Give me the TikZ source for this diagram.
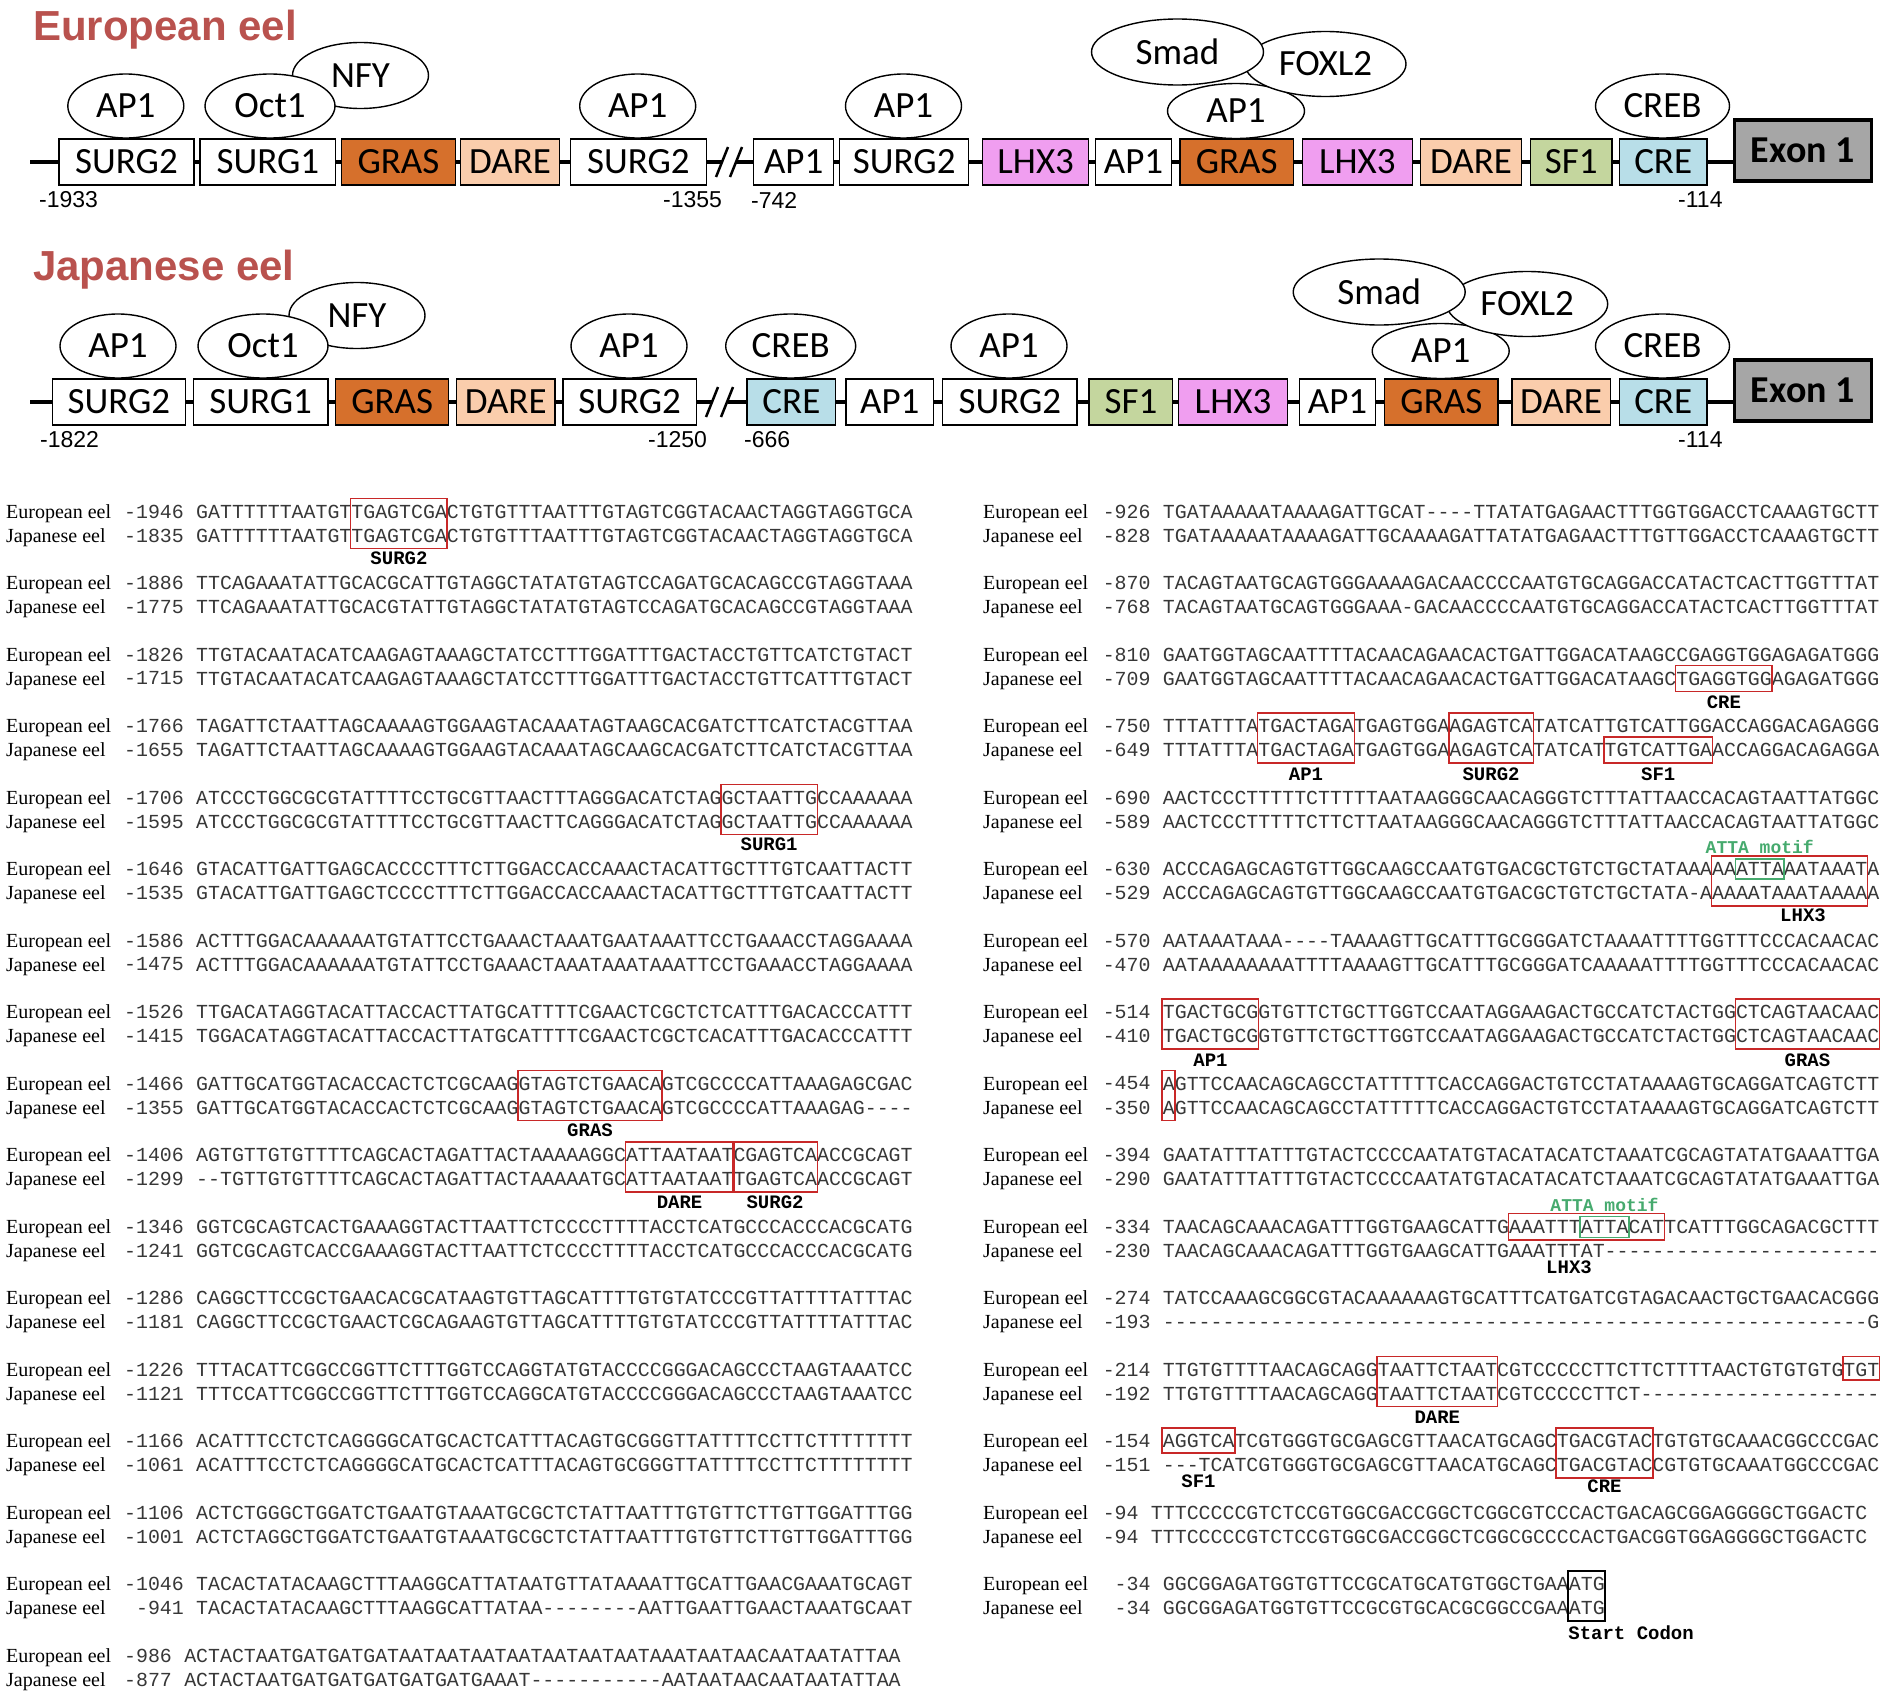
\documentclass[tikz,border=0pt]{standalone}
\usepackage{fontspec}
\setmainfont{Liberation Serif}
\setmonofont{Liberation Mono}
\newfontfamily\carlfont{Carlito}
\newfontfamily\arialfont{Liberation Sans}
\usetikzlibrary{shapes.geometric}
\definecolor{titlec}{RGB}{185,82,78}
\definecolor{grasc}{RGB}{214,112,44}
\definecolor{darec}{RGB}{250,205,172}
\definecolor{lhxc}{RGB}{240,158,240}
\definecolor{sfc}{RGB}{196,214,158}
\definecolor{crec}{RGB}{184,222,232}
\definecolor{exonc}{RGB}{166,166,166}
\definecolor{boxred}{RGB}{200,40,40}
\definecolor{attag}{RGB}{70,170,110}
\definecolor{seqc}{RGB}{55,55,55}
\newcommand{\Lx}{196}
\newcommand{\Rx}{1162.7}
\newcommand{\cw}{11.94}
\newcommand{\elem}[6]{\node[elem, fill=#5, minimum width={#3-#2}] (#1) at (#2,#4) {#6};}
\newcommand{\tfac}[6]{\node[tfac, minimum width=#4, minimum height=#5] (#1) at (#2,#3) {#6};}
\newcommand{\seqrow}[8]{%
  \node[rowlbl] (#1lE) at (#2,{#4+6.6}) {European eel};
  \node[rowlbl] (#1lJ) at (#2,{#4+30.6}) {Japanese eel};
  \node[numtxt] (#1nE) at ({#3-\cw},#4) {#5};
  \node[seqtxt] (#1sE) at (#3,#4) {#6};
  \node[numtxt] (#1nJ) at ({#3-\cw},{#4+24}) {#7};
  \node[seqtxt] (#1sJ) at (#3,{#4+24}) {#8};
}
\newcommand{\motifbox}[6]{\draw[#6] ({#1+#2*\cw-0.5},#4) rectangle ({#1+(#3+1)*\cw+0.5},#5);}
\begin{document}
\begin{tikzpicture}[x=1pt,y=-1pt,
  elem/.style={draw=black, line width=1.4pt, inner sep=0pt, minimum height=46, anchor=west, font=\carlfont\fontsize{37}{40}\selectfont},
  tfac/.style={draw=black, line width=1.4pt, fill=white, ellipse, inner sep=0pt, font=\carlfont\fontsize{37}{40}\selectfont},
  exonbox/.style={draw=black, line width=3.5pt, fill=exonc, inner sep=0pt, minimum height=61, minimum width=137, anchor=west, font=\carlfont\bfseries\fontsize{38}{40}\selectfont},
  backbone/.style={line width=4.5pt},
  brk/.style={line width=2.5pt},
  poslbl/.style={anchor=west, inner sep=0pt, font=\arialfont\fontsize{23}{26}\selectfont},
  ttl/.style={anchor=base west, inner sep=0pt, text=titlec, font=\arialfont\bfseries\fontsize{42}{46}\selectfont},
  rowlbl/.style={anchor=base west, inner sep=0pt, font=\rmfamily\fontsize{20}{24}\selectfont},
  numtxt/.style={anchor=east, inner sep=0pt, text=seqc, font=\ttfamily\fontsize{19.9}{24}\selectfont},
  seqtxt/.style={anchor=west, inner sep=0pt, text=seqc, font=\ttfamily\fontsize{19.9}{24}\selectfont},
  mlbl/.style={inner sep=0pt, font=\ttfamily\bfseries\fontsize{19}{22}\selectfont},
  attalbl/.style={inner sep=0pt, text=attag, font=\ttfamily\bfseries\fontsize{18}{22}\selectfont},
  redbox/.style={draw=boxred, line width=1.5pt},
  greenbox/.style={draw=attag, line width=1.5pt},
  blackbox/.style={draw=black, line width=1.5pt},
]
\fill[white] (0,0) rectangle (1890,1692);
\useasboundingbox (0,0) rectangle (1890,1692);

% ---------------- European eel diagram ----------------
\node[ttl] (tEu) at (33,40) {European eel};
\coordinate (eS) at (30,162); \coordinate (eB1) at (722,162);
\coordinate (eB2) at (736,162); \coordinate (eE) at (1733,162);
\draw[backbone] (eS) -- (eB1);
\draw[backbone] (eB2) -- (eE);
\draw[brk] (716,177) -- (728,147);
\draw[brk] (730,177) -- (742,147);
\elem{eA}{58.3}{193.3}{162}{white}{SURG2}
\elem{eB}{199.3}{335}{162}{white}{SURG1}
\elem{eC}{341}{454.5}{162}{grasc}{GRAS}
\elem{eD}{460}{558.6}{162}{darec}{DARE}
\elem{eF}{569.5}{705.8}{162}{white}{SURG2}
\elem{eG}{753}{833}{162}{white}{AP1}
\elem{eH}{839}{968}{162}{white}{SURG2}
\elem{eI}{982}{1088}{162}{lhxc}{LHX3}
\elem{eJ}{1095}{1170.7}{162}{white}{AP1}
\elem{eK}{1179.3}{1292.7}{162}{grasc}{GRAS}
\elem{eL}{1301.7}{1411.7}{162}{lhxc}{LHX3}
\elem{eM}{1420}{1520.7}{162}{darec}{DARE}
\elem{eN}{1530}{1611.3}{162}{sfc}{SF1}
\elem{eO}{1618.6}{1706.4}{162}{crec}{CRE}
\node[exonbox] (eX) at (1732.5,150.5) {Exon 1};
\tfac{eAP1a}{125.8}{106}{116}{64}{AP1}
\tfac{eNFY}{360.5}{75.5}{136}{66}{NFY}
\tfac{eOct1}{270}{106}{130}{64}{Oct1}
\tfac{eAP1b}{637.7}{106}{116}{64}{AP1}
\tfac{eAP1c}{903.5}{106}{116}{64}{AP1}
\tfac{eAP1d}{1236}{111}{137}{55}{AP1}
\tfac{eFOXL2}{1325.5}{64}{161}{65}{FOXL2}
\tfac{eSmad}{1177.5}{52}{172}{66}{Smad}
\tfac{eCREB}{1662.5}{106}{134}{64}{CREB}
\node[poslbl] (ep1) at (39,200) {-1933};
\node[poslbl] (ep2) at (663,200) {-1355};
\node[poslbl] (ep3) at (751,200) {-742};
\node[poslbl] (ep4) at (1678,200) {-114};

% ---------------- Japanese eel diagram ----------------
\node[ttl] (tJp) at (33,280) {Japanese eel};
\coordinate (jS) at (30,402); \coordinate (jB1) at (712,402);
\coordinate (jB2) at (728,402); \coordinate (jE) at (1733,402);
\draw[backbone] (jS) -- (jB1);
\draw[backbone] (jB2) -- (jE);
\draw[brk] (706,417) -- (718,387);
\draw[brk] (721,417) -- (733,387);
\elem{jA}{51.5}{184.8}{402}{white}{SURG2}
\elem{jB}{192.7}{327.2}{402}{white}{SURG1}
\elem{jC}{335}{448}{402}{grasc}{GRAS}
\elem{jD}{455.6}{554.4}{402}{darec}{DARE}
\elem{jE2}{562.3}{695.5}{402}{white}{SURG2}
\elem{jF}{746.4}{835}{402}{crec}{CRE}
\elem{jG}{845.2}{933}{402}{white}{AP1}
\elem{jH}{942}{1076.3}{402}{white}{SURG2}
\elem{jI}{1088.4}{1172}{402}{sfc}{SF1}
\elem{jJ}{1178}{1286.6}{402}{lhxc}{LHX3}
\elem{jK}{1298.7}{1375}{402}{white}{AP1}
\elem{jL}{1384}{1497.4}{402}{grasc}{GRAS}
\elem{jM}{1511.3}{1609.5}{402}{darec}{DARE}
\elem{jN}{1618.6}{1706.4}{402}{crec}{CRE}
\node[exonbox] (jX) at (1732.5,390.5) {Exon 1};
\tfac{jAP1a}{118}{346}{116}{64}{AP1}
\tfac{jNFY}{357}{315.5}{136}{66}{NFY}
\tfac{jOct1}{263}{346}{130}{64}{Oct1}
\tfac{jAP1b}{629}{346}{116}{64}{AP1}
\tfac{jCREBa}{790.7}{346}{130}{64}{CREB}
\tfac{jAP1c}{1009}{346}{116}{64}{AP1}
\tfac{jAP1d}{1440.7}{351}{137}{55}{AP1}
\tfac{jFOXL2}{1527.2}{304}{161}{65}{FOXL2}
\tfac{jSmad}{1379.2}{292}{172}{66}{Smad}
\tfac{jCREBb}{1662.5}{346}{134}{64}{CREB}
\node[poslbl] (jp1) at (40,440) {-1822};
\node[poslbl] (jp2) at (648,440) {-1250};
\node[poslbl] (jp3) at (744,440) {-666};
\node[poslbl] (jp4) at (1678,440) {-114};

% ---------------- Alignment, left column ----------------
\seqrow{La}{6}{\Lx}{511.5}{-1946}{GATTTTTTAATGTTGAGTCGACTGTGTTTAATTTGTAGTCGGTACAACTAGGTAGGTGCA}{-1835}{GATTTTTTAATGTTGAGTCGACTGTGTTTAATTTGTAGTCGGTACAACTAGGTAGGTGCA}
\seqrow{Lb}{6}{\Lx}{583}{-1886}{TTCAGAAATATTGCACGCATTGTAGGCTATATGTAGTCCAGATGCACAGCCGTAGGTAAA}{-1775}{TTCAGAAATATTGCACGTATTGTAGGCTATATGTAGTCCAGATGCACAGCCGTAGGTAAA}
\seqrow{Lc}{6}{\Lx}{654.5}{-1826}{TTGTACAATACATCAAGAGTAAAGCTATCCTTTGGATTTGACTACCTGTTCATCTGTACT}{-1715}{TTGTACAATACATCAAGAGTAAAGCTATCCTTTGGATTTGACTACCTGTTCATTTGTACT}
\seqrow{Ld}{6}{\Lx}{726}{-1766}{TAGATTCTAATTAGCAAAAGTGGAAGTACAAATAGTAAGCACGATCTTCATCTACGTTAA}{-1655}{TAGATTCTAATTAGCAAAAGTGGAAGTACAAATAGCAAGCACGATCTTCATCTACGTTAA}
\seqrow{Le}{6}{\Lx}{797.5}{-1706}{ATCCCTGGCGCGTATTTTCCTGCGTTAACTTTAGGGACATCTAGGCTAATTGCCAAAAAA}{-1595}{ATCCCTGGCGCGTATTTTCCTGCGTTAACTTCAGGGACATCTAGGCTAATTGCCAAAAAA}
\seqrow{Lf}{6}{\Lx}{869}{-1646}{GTACATTGATTGAGCACCCCTTTCTTGGACCACCAAACTACATTGCTTTGTCAATTACTT}{-1535}{GTACATTGATTGAGCTCCCCTTTCTTGGACCACCAAACTACATTGCTTTGTCAATTACTT}
\seqrow{Lg}{6}{\Lx}{940.5}{-1586}{ACTTTGGACAAAAAATGTATTCCTGAAACTAAATGAATAAATTCCTGAAACCTAGGAAAA}{-1475}{ACTTTGGACAAAAAATGTATTCCTGAAACTAAATAAATAAATTCCTGAAACCTAGGAAAA}
\seqrow{Lh}{6}{\Lx}{1012}{-1526}{TTGACATAGGTACATTACCACTTATGCATTTTCGAACTCGCTCTCATTTGACACCCATTT}{-1415}{TGGACATAGGTACATTACCACTTATGCATTTTCGAACTCGCTCACATTTGACACCCATTT}
\seqrow{Li}{6}{\Lx}{1083.5}{-1466}{GATTGCATGGTACACCACTCTCGCAAGGTAGTCTGAACAGTCGCCCCATTAAAGAGCGAC}{-1355}{GATTGCATGGTACACCACTCTCGCAAGGTAGTCTGAACAGTCGCCCCATTAAAGAG----}
\seqrow{Lj}{6}{\Lx}{1155}{-1406}{AGTGTTGTGTTTTCAGCACTAGATTACTAAAAAGGCATTAATAATCGAGTCAACCGCAGT}{-1299}{--TGTTGTGTTTTCAGCACTAGATTACTAAAAATGCATTAATAATTGAGTCAACCGCAGT}
\seqrow{Lk}{6}{\Lx}{1226.5}{-1346}{GGTCGCAGTCACTGAAAGGTACTTAATTCTCCCCTTTTACCTCATGCCCACCCACGCATG}{-1241}{GGTCGCAGTCACCGAAAGGTACTTAATTCTCCCCTTTTACCTCATGCCCACCCACGCATG}
\seqrow{Ll}{6}{\Lx}{1298}{-1286}{CAGGCTTCCGCTGAACACGCATAAGTGTTAGCATTTTGTGTATCCCGTTATTTTATTTAC}{-1181}{CAGGCTTCCGCTGAACTCGCAGAAGTGTTAGCATTTTGTGTATCCCGTTATTTTATTTAC}
\seqrow{Lm}{6}{\Lx}{1369.5}{-1226}{TTTACATTCGGCCGGTTCTTTGGTCCAGGTATGTACCCCGGGACAGCCCTAAGTAAATCC}{-1121}{TTTCCATTCGGCCGGTTCTTTGGTCCAGGCATGTACCCCGGGACAGCCCTAAGTAAATCC}
\seqrow{Ln}{6}{\Lx}{1441}{-1166}{ACATTTCCTCTCAGGGGCATGCACTCATTTACAGTGCGGGTTATTTTCCTTCTTTTTTTT}{-1061}{ACATTTCCTCTCAGGGGCATGCACTCATTTACAGTGCGGGTTATTTTCCTTCTTTTTTTT}
\seqrow{Lo}{6}{\Lx}{1512.5}{-1106}{ACTCTGGGCTGGATCTGAATGTAAATGCGCTCTATTAATTTGTGTTCTTGTTGGATTTGG}{-1001}{ACTCTAGGCTGGATCTGAATGTAAATGCGCTCTATTAATTTGTGTTCTTGTTGGATTTGG}
\seqrow{Lp}{6}{\Lx}{1584}{-1046}{TACACTATACAAGCTTTAAGGCATTATAATGTTATAAAATTGCATTGAACGAAATGCAGT}{-941}{TACACTATACAAGCTTTAAGGCATTATAA--------AATTGAATTGAACTAAATGCAAT}
\seqrow{Lq}{6}{184.06}{1655.5}{-986}{ACTACTAATGATGATGATAATAATAATAATAATAATAATAAATAATAACAATAATATTAA}{-877}{ACTACTAATGATGATGATGATGATGAAAT----------{}-AATAATAACAATAATATTAA}

% left column motifs
\motifbox{\Lx}{13}{20}{498.5}{548.5}{redbox}
\node[mlbl] (mL1) at ({\Lx+17*\cw},558.5) {SURG2};
\motifbox{\Lx}{44}{51}{784.5}{834.5}{redbox}
\node[mlbl] (mL2) at ({\Lx+48*\cw},844.5) {SURG1};
\motifbox{\Lx}{27}{38}{1070.5}{1120.5}{redbox}
\node[mlbl] (mL3) at ({\Lx+33*\cw},1130.5) {GRAS};
\motifbox{\Lx}{36}{44}{1142}{1192}{redbox}
\motifbox{\Lx}{45}{51}{1142}{1192}{redbox}
\node[mlbl] (mL4) at ({\Lx+40.5*\cw},1202) {DARE};
\node[mlbl] (mL5) at ({\Lx+48.5*\cw},1202) {SURG2};

% ---------------- Alignment, right column ----------------
\seqrow{Ra}{983}{\Rx}{511.5}{-926}{TGATAAAAATAAAAGATTGCAT----TTATATGAGAACTTTGGTGGACCTCAAAGTGCTT}{-828}{TGATAAAAATAAAAGATTGCAAAAGATTATATGAGAACTTTGTTGGACCTCAAAGTGCTT}
\seqrow{Rb}{983}{\Rx}{583}{-870}{TACAGTAATGCAGTGGGAAAAGACAACCCCAATGTGCAGGACCATACTCACTTGGTTTAT}{-768}{TACAGTAATGCAGTGGGAAA-GACAACCCCAATGTGCAGGACCATACTCACTTGGTTTAT}
\seqrow{Rc}{983}{\Rx}{654.5}{-810}{GAATGGTAGCAATTTTACAACAGAACACTGATTGGACATAAGCCGAGGTGGAGAGATGGG}{-709}{GAATGGTAGCAATTTTACAACAGAACACTGATTGGACATAAGCTGAGGTGGAGAGATGGG}
\seqrow{Rd}{983}{\Rx}{726}{-750}{TTTATTTATGACTAGATGAGTGGAAGAGTCATATCATTGTCATTGGACCAGGACAGAGGG}{-649}{TTTATTTATGACTAGATGAGTGGAAGAGTCATATCATTGTCATTGAACCAGGACAGAGGA}
\seqrow{Re}{983}{\Rx}{797.5}{-690}{AACTCCCTTTTTCTTTTTAATAAGGGCAACAGGGTCTTTATTAACCACAGTAATTATGGC}{-589}{AACTCCCTTTTTCTTCTTAATAAGGGCAACAGGGTCTTTATTAACCACAGTAATTATGGC}
\seqrow{Rf}{983}{\Rx}{869}{-630}{ACCCAGAGCAGTGTTGGCAAGCCAATGTGACGCTGTCTGCTATAAAAAATTAAATAAATA}{-529}{ACCCAGAGCAGTGTTGGCAAGCCAATGTGACGCTGTCTGCTATA-AAAAATAAATAAAAA}
\seqrow{Rg}{983}{\Rx}{940.5}{-570}{AATAAATAAA----TAAAAGTTGCATTTGCGGGATCTAAAATTTTGGTTTCCCACAACAC}{-470}{AATAAAAAAAATTTTAAAAGTTGCATTTGCGGGATCAAAAATTTTGGTTTCCCACAACAC}
\seqrow{Rh}{983}{\Rx}{1012}{-514}{TGACTGCGGTGTTCTGCTTGGTCCAATAGGAAGACTGCCATCTACTGGCTCAGTAACAAC}{-410}{TGACTGCGGTGTTCTGCTTGGTCCAATAGGAAGACTGCCATCTACTGGCTCAGTAACAAC}
\seqrow{Ri}{983}{\Rx}{1083.5}{-454}{AGTTCCAACAGCAGCCTATTTTTCACCAGGACTGTCCTATAAAAGTGCAGGATCAGTCTT}{-350}{AGTTCCAACAGCAGCCTATTTTTCACCAGGACTGTCCTATAAAAGTGCAGGATCAGTCTT}
\seqrow{Rj}{983}{\Rx}{1155}{-394}{GAATATTTATTTGTACTCCCCAATATGTACATACATCTAAATCGCAGTATATGAAATTGA}{-290}{GAATATTTATTTGTACTCCCCAATATGTACATACATCTAAATCGCAGTATATGAAATTGA}
\seqrow{Rk}{983}{\Rx}{1226.5}{-334}{TAACAGCAAACAGATTTGGTGAAGCATTGAAATTTATTACATTCATTTGGCAGACGCTTT}{-230}{TAACAGCAAACAGATTTGGTGAAGCATTGAAATTTAT----------{}----------{}---}
\seqrow{Rl}{983}{\Rx}{1298}{-274}{TATCCAAAGCGGCGTACAAAAAAGTGCATTTCATGATCGTAGACAACTGCTGAACACGGG}{-193}{----------{}----------{}----------{}----------{}----------{}---------G}
\seqrow{Rm}{983}{\Rx}{1369.5}{-214}{TTGTGTTTTAACAGCAGGTAATTCTAATCGTCCCCCTTCTTCTTTTAACTGTGTGTGTGT}{-192}{TTGTGTTTTAACAGCAGGTAATTCTAATCGTCCCCCTTCT----------{}----------}
\seqrow{Rn}{983}{\Rx}{1441}{-154}{AGGTCATCGTGGGTGCGAGCGTTAACATGCAGCTGACGTACTGTGTGCAAACGGCCCGAC}{-151}{---TCATCGTGGGTGCGAGCGTTAACATGCAGCTGACGTACCGTGTGCAAATGGCCCGAC}
\seqrow{Ro}{983}{1150.76}{1512.5}{-94}{TTTCCCCCGTCTCCGTGGCGACCGGCTCGGCGTCCCACTGACAGCGGAGGGGCTGGACTC}{-94}{TTTCCCCCGTCTCCGTGGCGACCGGCTCGGCGCCCCACTGACGGTGGAGGGGCTGGACTC}
\seqrow{Rp}{983}{\Rx}{1584}{-34}{GGCGGAGATGGTGTTCCGCATGCATGTGGCTGAAATG}{-34}{GGCGGAGATGGTGTTCCGCGTGCACGCGGCCGAAATG}

% right column motifs
\motifbox{\Rx}{43}{50}{665.5}{691.5}{redbox}
\node[mlbl] (mR1) at ({\Rx+47*\cw},702.5) {CRE};
\motifbox{\Rx}{8}{15}{713}{763}{redbox}
\motifbox{\Rx}{24}{30}{713}{763}{redbox}
\motifbox{\Rx}{37}{45}{737}{763}{redbox}
\node[mlbl] (mR2) at ({\Rx+12*\cw},774) {AP1};
\node[mlbl] (mR3) at ({\Rx+27.5*\cw},774) {SURG2};
\node[mlbl] (mR4) at ({\Rx+41.5*\cw},774) {SF1};
\motifbox{\Rx}{46}{58}{856}{906}{redbox}
\motifbox{\Rx}{48}{51}{859}{879}{greenbox}
\node[attalbl] (mR5) at ({\Rx+50*\cw},847) {ATTA motif};
\node[mlbl] (mR6) at (1803,915) {LHX3};
\motifbox{\Rx}{0}{7}{999}{1049}{redbox}
\motifbox{\Rx}{48}{59}{999}{1049}{redbox}
\node[mlbl] (mR7) at ({\Rx+4*\cw},1060) {AP1};
\node[mlbl] (mR8) at ({\Rx+54*\cw},1060) {GRAS};
\motifbox{\Rx}{0}{0}{1070.5}{1120.5}{redbox}
\motifbox{\Rx}{29}{41}{1213.5}{1240}{redbox}
\motifbox{\Rx}{35}{38}{1216.5}{1237.5}{greenbox}
\node[attalbl] (mR9) at ({\Rx+37*\cw},1205) {ATTA motif};
\node[mlbl] (mR10) at (1569,1267) {LHX3};
\motifbox{\Rx}{18}{27}{1356.5}{1406.5}{redbox}
\node[mlbl] (mR11) at ({\Rx+23*\cw},1417) {DARE};
\motifbox{\Rx}{57}{59}{1356.5}{1380}{redbox}
\motifbox{\Rx}{0}{5}{1428}{1453}{redbox}
\node[mlbl] (mR12) at ({\Rx+3*\cw},1481) {SF1};
\motifbox{\Rx}{33}{40}{1428}{1478}{redbox}
\node[mlbl] (mR13) at ({\Rx+37*\cw},1486) {CRE};
\motifbox{\Rx}{34}{36}{1571}{1621}{blackbox}
\node[mlbl, anchor=west] (mR14) at ({\Rx+34*\cw-0.5},1632.5) {Start Codon};
\end{tikzpicture}
\end{document}
